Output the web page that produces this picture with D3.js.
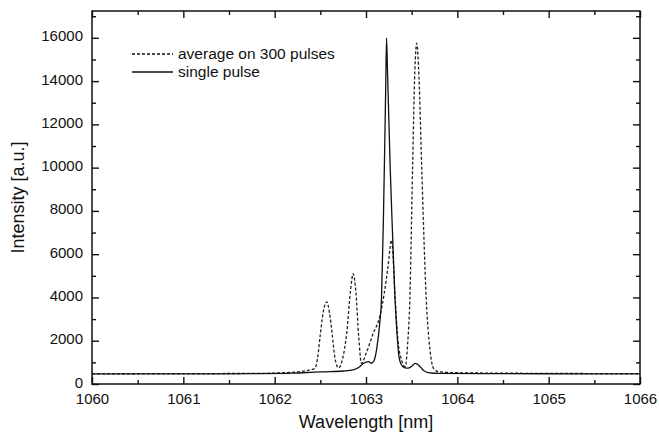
<!DOCTYPE html>
<html>
<head>
<meta charset="utf-8">
<script src="https://cdn.jsdelivr.net/npm/d3@7"></script>
<style>
  body { margin: 0; background: #fff; }
  text { font-family: "Liberation Sans", Arial, sans-serif; fill: #111; }
</style>
</head>
<body>
<svg id="chart"></svg>
<script>
// wavelength [nm] / intensity [a.u.]
const singleWl = [1060, 1061, 1061.8, 1062.2, 1062.5, 1062.61, 1062.75, 1062.86, 1062.93, 1062.97,
  1063.03, 1063.06, 1063.09, 1063.12, 1063.15, 1063.17, 1063.19, 1063.205, 1063.215, 1063.225,
  1063.235, 1063.245, 1063.265, 1063.29, 1063.315, 1063.34, 1063.36, 1063.38, 1063.42, 1063.46,
  1063.5, 1063.54, 1063.58, 1063.63, 1063.68, 1063.8, 1064.5, 1065.5, 1066];
const singleI = [470, 470, 480, 500, 560, 570, 600, 650, 800, 950,
  1030, 960, 1100, 1700, 2800, 4000, 7500, 11000, 13500, 16000,
  14500, 13000, 10000, 7000, 4200, 2300, 1300, 950, 760, 730,
  820, 950, 860, 620, 530, 490, 480, 470, 470];

const avgWl = [1060, 1061, 1061.8, 1062.1, 1062.25, 1062.35, 1062.44, 1062.47, 1062.5, 1062.535,
  1062.57, 1062.6, 1062.63, 1062.66, 1062.7, 1062.74, 1062.79, 1062.83, 1062.86, 1062.89,
  1062.92, 1062.95, 1063, 1063.08, 1063.15, 1063.2, 1063.24, 1063.28, 1063.32, 1063.35,
  1063.39, 1063.43, 1063.455, 1063.48, 1063.51, 1063.535, 1063.555, 1063.58, 1063.61, 1063.66,
  1063.7, 1063.74, 1063.8, 1064, 1065, 1066];
const avgI = [470, 480, 490, 520, 560, 620, 720, 1200, 2300, 3400,
  3800, 3300, 2300, 1200, 740, 1100, 2400, 4300, 5100, 4200,
  2200, 950, 1400, 2350, 3100, 4200, 5400, 6650, 3900, 2000,
  1100, 800, 1800, 3900, 10000, 14500, 15750, 14200, 10000, 3900,
  1600, 720, 560, 520, 490, 480];

const xTicks = [1060, 1061, 1062, 1063, 1064, 1065, 1066];
const yTicks = [0, 2000, 4000, 6000, 8000, 10000, 12000, 14000, 16000];
const legendLabels = ['average on 300 pulses', 'single pulse'];

const width = 659, height = 439;
const margin = { top: 11, right: 19, bottom: 55, left: 92 };
const w = width - margin.left - margin.right;
const h = height - margin.top - margin.bottom;

const svg = d3.select('#chart').attr('width', width).attr('height', height);
const g = svg.append('g').attr('transform', `translate(${margin.left},${margin.top})`);

const x = d3.scaleLinear().domain([1060, 1066]).range([0, w]);
const y = d3.scaleLinear().domain([0, 17240]).range([h, 0]);

// minor ticks
const xMinor = d3.range(1060.5, 1066, 1);
const yMinor = d3.range(1000, 17240, 2000);

function tickAxis(axisFn, scale, vals, size, pad) {
  return axisFn(scale).tickValues(vals).tickSizeInner(-size).tickSizeOuter(0)
    .tickPadding(pad || 0)
    .tickFormat(pad ? d3.format('d') : '');
}

const axes = [
  [d3.axisBottom, x, xTicks, 7, 9, `translate(0,${h})`],
  [d3.axisBottom, x, xMinor, 4, 0, `translate(0,${h})`],
  [d3.axisTop, x, xTicks, 7, 0, 'translate(0,0)'],
  [d3.axisTop, x, xMinor, 4, 0, 'translate(0,0)'],
  [d3.axisLeft, y, yTicks, 7, 9, 'translate(0,0)'],
  [d3.axisLeft, y, yMinor, 4, 0, 'translate(0,0)'],
  [d3.axisRight, y, yTicks, 7, 0, `translate(${w},0)`],
  [d3.axisRight, y, yMinor, 4, 0, `translate(${w},0)`]
];
axes.forEach(([fn, sc, vals, size, pad, tr], i) => {
  const a = g.append('g').attr('transform', tr).call(tickAxis(fn, sc, vals, size, pad));
  a.select('.domain').remove();
  a.selectAll('line').attr('stroke', '#111').attr('stroke-width', 1.4);
  a.selectAll('text').style('font-size', '15px').attr('fill', '#111');
  if (i === 4) a.selectAll('text').attr('dy', '0.2em');
});

// frame
g.append('rect').attr('width', w).attr('height', h)
  .attr('fill', 'none').attr('stroke', '#111').attr('stroke-width', 1.5);

const line = d3.line().x(d => x(d[0])).y(d => y(d[1])).curve(d3.curveMonotoneX);

g.append('path').datum(d3.zip(avgWl, avgI)).attr('d', line)
  .attr('fill', 'none').attr('stroke', '#222').attr('stroke-width', 1.3)
  .attr('stroke-dasharray', '3,2');

g.append('path').datum(d3.zip(singleWl, singleI)).attr('d', line)
  .attr('fill', 'none').attr('stroke', '#111').attr('stroke-width', 1.3);

// legend
const legend = g.append('g').attr('transform', 'translate(40,43)');
legendLabels.forEach((lab, i) => {
  const row = legend.append('g').attr('transform', `translate(0,${i * 18})`);
  row.append('line').attr('x1', 0).attr('x2', 41).attr('y1', 0).attr('y2', 0)
    .attr('stroke', '#111').attr('stroke-width', 1.3)
    .attr('stroke-dasharray', i === 0 ? '3,2' : null);
  row.append('text').attr('x', 46).attr('y', 5).style('font-size', '15.5px').text(lab);
});

// axis titles
svg.append('text').attr('x', margin.left + w / 2).attr('y', 428)
  .attr('text-anchor', 'middle').style('font-size', '18px').text('Wavelength [nm]');
svg.append('text').attr('transform', `translate(24,${margin.top + h / 2}) rotate(-90)`)
  .attr('text-anchor', 'middle').style('font-size', '18px').text('Intensity [a.u.]');
</script>
</body>
</html>
